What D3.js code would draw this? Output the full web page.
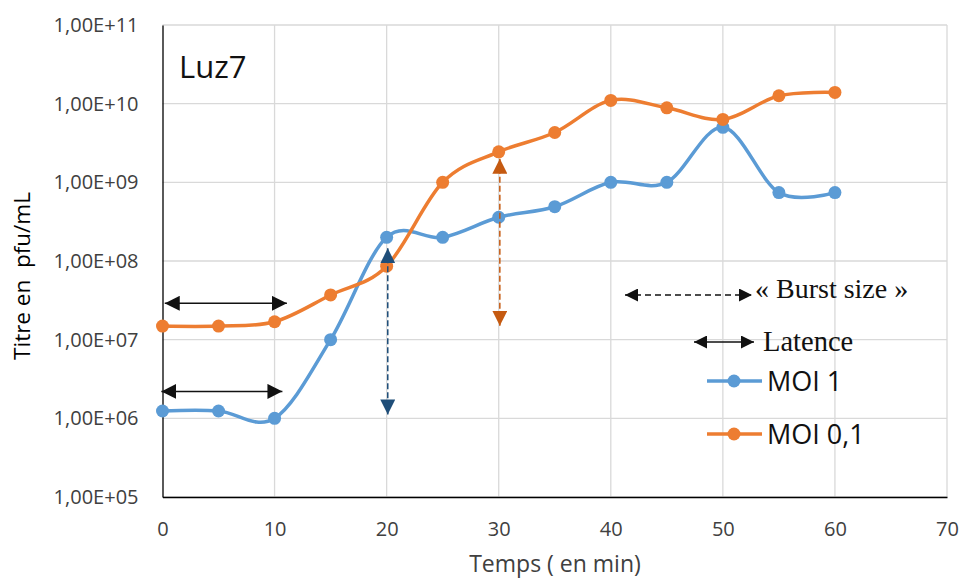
<!DOCTYPE html>
<html>
<head>
<meta charset="utf-8">
<script src="https://cdn.jsdelivr.net/npm/d3@7/dist/d3.min.js"></script>
<style>
  body { margin: 0; background: #fff; }
  svg { display: block; }
</style>
</head>
<body>
<svg id="chart" width="962" height="580"></svg>
<script>
// ---- data ----
const times = [0, 5, 10, 15, 20, 25, 30, 35, 40, 45, 50, 55, 60];
const moi1 = [1.24e6, 1.24e6, 1.0e6, 1.0e7, 2.0e8, 2.0e8, 3.6e8, 4.9e8, 1.0e9, 1.0e9, 5.0e9, 7.4e8, 7.4e8];
const moi01 = [1.49e7, 1.49e7, 1.69e7, 3.7e7, 8.6e7, 1.0e9, 2.44e9, 4.3e9, 1.1e10, 8.85e9, 6.3e9, 1.26e10, 1.39e10];
const seriesNames = ["MOI 1", "MOI 0,1"];
const xTicks = [0, 10, 20, 30, 40, 50, 60, 70];
const yTicks = [1e5, 1e6, 1e7, 1e8, 1e9, 1e10, 1e11];
const yTickLabels = ["1,00E+05", "1,00E+06", "1,00E+07", "1,00E+08", "1,00E+09", "1,00E+10", "1,00E+11"];
// annotation arrows (data coordinates)
const latenceArrows = [ {x0: 0.2, x1: 11.1, y: 2.9e7}, {x0: -0.1, x1: 10.7, y: 2.2e6} ];
const burstArrows = [ {x: 20.1, y0: 1.45e8, y1: 1.12e6, color: "#1F4E79"}, {x: 30.1, y0: 2.0e9, y1: 1.5e7, color: "#C55A11"} ];

const svg = d3.select("#chart");
const x = d3.scaleLinear().domain([0, 70]).range([162.5, 947]);
const y = d3.scaleLog().domain([1e5, 1e11]).range([497, 25]);

const defs = svg.append("defs");
function marker(id, color, size) {
  defs.append("marker").attr("id", id).attr("viewBox", "0 0 10 10")
    .attr("refX", 10).attr("refY", 5).attr("markerUnits", "userSpaceOnUse")
    .attr("markerWidth", size).attr("markerHeight", size).attr("orient", "auto-start-reverse")
    .append("path").attr("d", "M0,0 L10,5 L0,10 Z").attr("fill", color);
}
marker("ah-black", "#111", 15);
marker("ah-blue", "#1F4E79", 15);
marker("ah-orange", "#C55A11", 15);
marker("ah-small", "#111", 13);

// gridlines
const grid = svg.append("g");
grid.selectAll(".hg").data(yTicks).join("line")
  .attr("x1", x(0)).attr("x2", x(70)).attr("y1", d => y(d)).attr("y2", d => y(d))
  .attr("stroke", "#d9d9d9").attr("stroke-width", 1.3);
grid.selectAll(".vg").data(xTicks.slice(1)).join("line")
  .attr("x1", d => x(d)).attr("x2", d => x(d)).attr("y1", y(1e5)).attr("y2", y(1e11))
  .attr("stroke", "#d9d9d9").attr("stroke-width", 1.3);

// axes
const yAxis = d3.axisLeft(y).tickValues(yTicks).tickSize(0).tickPadding(24)
  .tickFormat((d, i) => yTickLabels[i]);
const gy = svg.append("g").attr("transform", `translate(${x(0)},0)`).call(yAxis);
gy.select(".domain").attr("stroke", "#000").attr("stroke-width", 1.3);
gy.selectAll("text").attr("font-family", "'Open Sans', sans-serif").attr("font-size", 20).attr("fill", "#404040");

const xAxis = d3.axisBottom(x).tickValues(xTicks).tickSize(0).tickPadding(25);
const gx = svg.append("g").attr("transform", `translate(0,${y(1e5)})`).call(xAxis);
gx.select(".domain").attr("stroke", "#000").attr("stroke-width", 1.3);
gx.selectAll("text").attr("font-family", "'Open Sans', sans-serif").attr("font-size", 20).attr("fill", "#404040");

// axis titles
svg.append("text").attr("x", 555).attr("y", 572).attr("text-anchor", "middle")
  .attr("font-family", "'Open Sans', sans-serif").attr("font-size", 23).attr("fill", "#404040")
  .text("Temps ( en min)");
svg.append("text").attr("transform", "translate(30,276) rotate(-90)").attr("text-anchor", "middle")
  .attr("font-family", "'Open Sans', sans-serif").attr("font-size", 22.5).attr("fill", "#000")
  .attr("xml:space", "preserve").style("white-space", "pre")
  .text("Titre en  pfu/mL");

// Luz7
svg.append("text").attr("x", 179).attr("y", 78)
  .attr("font-family", "'Open Sans', sans-serif").attr("font-size", 31).attr("fill", "#111")
  .text("Luz7");

// series
const line = d3.line().x(d => x(d[0])).y(d => y(d[1])).curve(d3.curveCardinal.tension(0));
const series = [
  {name: seriesNames[0], values: moi1, color: "#5B9BD5"},
  {name: seriesNames[1], values: moi01, color: "#ED7D31"}
];
series.forEach(s => {
  const pts = times.map((t, i) => [t, s.values[i]]);
  svg.append("path").datum(pts).attr("d", line).attr("fill", "none")
    .attr("stroke", s.color).attr("stroke-width", 3.5);
  svg.append("g").selectAll("circle").data(pts).join("circle")
    .attr("cx", d => x(d[0])).attr("cy", d => y(d[1])).attr("r", 6.5).attr("fill", s.color);
});

// latence arrows (black solid)
latenceArrows.forEach(a => {
  svg.append("line").attr("x1", x(a.x0)).attr("x2", x(a.x1)).attr("y1", y(a.y)).attr("y2", y(a.y))
    .attr("stroke", "#111").attr("stroke-width", 1.5)
    .attr("marker-start", "url(#ah-black)").attr("marker-end", "url(#ah-black)");
});
// burst arrows (dashed vertical)
burstArrows.forEach(a => {
  const id = a.color === "#1F4E79" ? "ah-blue" : "ah-orange";
  svg.append("line").attr("x1", x(a.x)).attr("x2", x(a.x)).attr("y1", y(a.y0)).attr("y2", y(a.y1))
    .attr("stroke", a.color).attr("stroke-width", 1.5).attr("stroke-dasharray", "6,3")
    .attr("marker-start", "url(#" + id + ")").attr("marker-end", "url(#" + id + ")");
});

// annotation legend
svg.append("line").attr("x1", 625).attr("x2", 752).attr("y1", 295).attr("y2", 295)
  .attr("stroke", "#111").attr("stroke-width", 1.3).attr("stroke-dasharray", "6,4")
  .attr("marker-start", "url(#ah-small)").attr("marker-end", "url(#ah-small)");
svg.append("text").attr("x", 755).attr("y", 298)
  .attr("font-family", "'Liberation Serif', serif").attr("font-size", 28).attr("fill", "#111")
  .text("« Burst size »");
svg.append("line").attr("x1", 694).attr("x2", 754).attr("y1", 342).attr("y2", 342)
  .attr("stroke", "#111").attr("stroke-width", 1.3)
  .attr("marker-start", "url(#ah-small)").attr("marker-end", "url(#ah-small)");
svg.append("text").attr("x", 763).attr("y", 351)
  .attr("font-family", "'Liberation Serif', serif").attr("font-size", 28.5).attr("fill", "#111")
  .text("Latence");

// series legend
const legY = [381, 434];
series.forEach((s, i) => {
  svg.append("line").attr("x1", 707).attr("x2", 762).attr("y1", legY[i]).attr("y2", legY[i])
    .attr("stroke", s.color).attr("stroke-width", 3.5);
  svg.append("circle").attr("cx", 734).attr("cy", legY[i]).attr("r", 6.5).attr("fill", s.color);
  svg.append("text").attr("x", 767).attr("y", legY[i] + 10)
    .attr("font-family", "'Open Sans', sans-serif").attr("font-size", 27).attr("fill", "#111")
    .text(s.name);
});
</script>
</body>
</html>
